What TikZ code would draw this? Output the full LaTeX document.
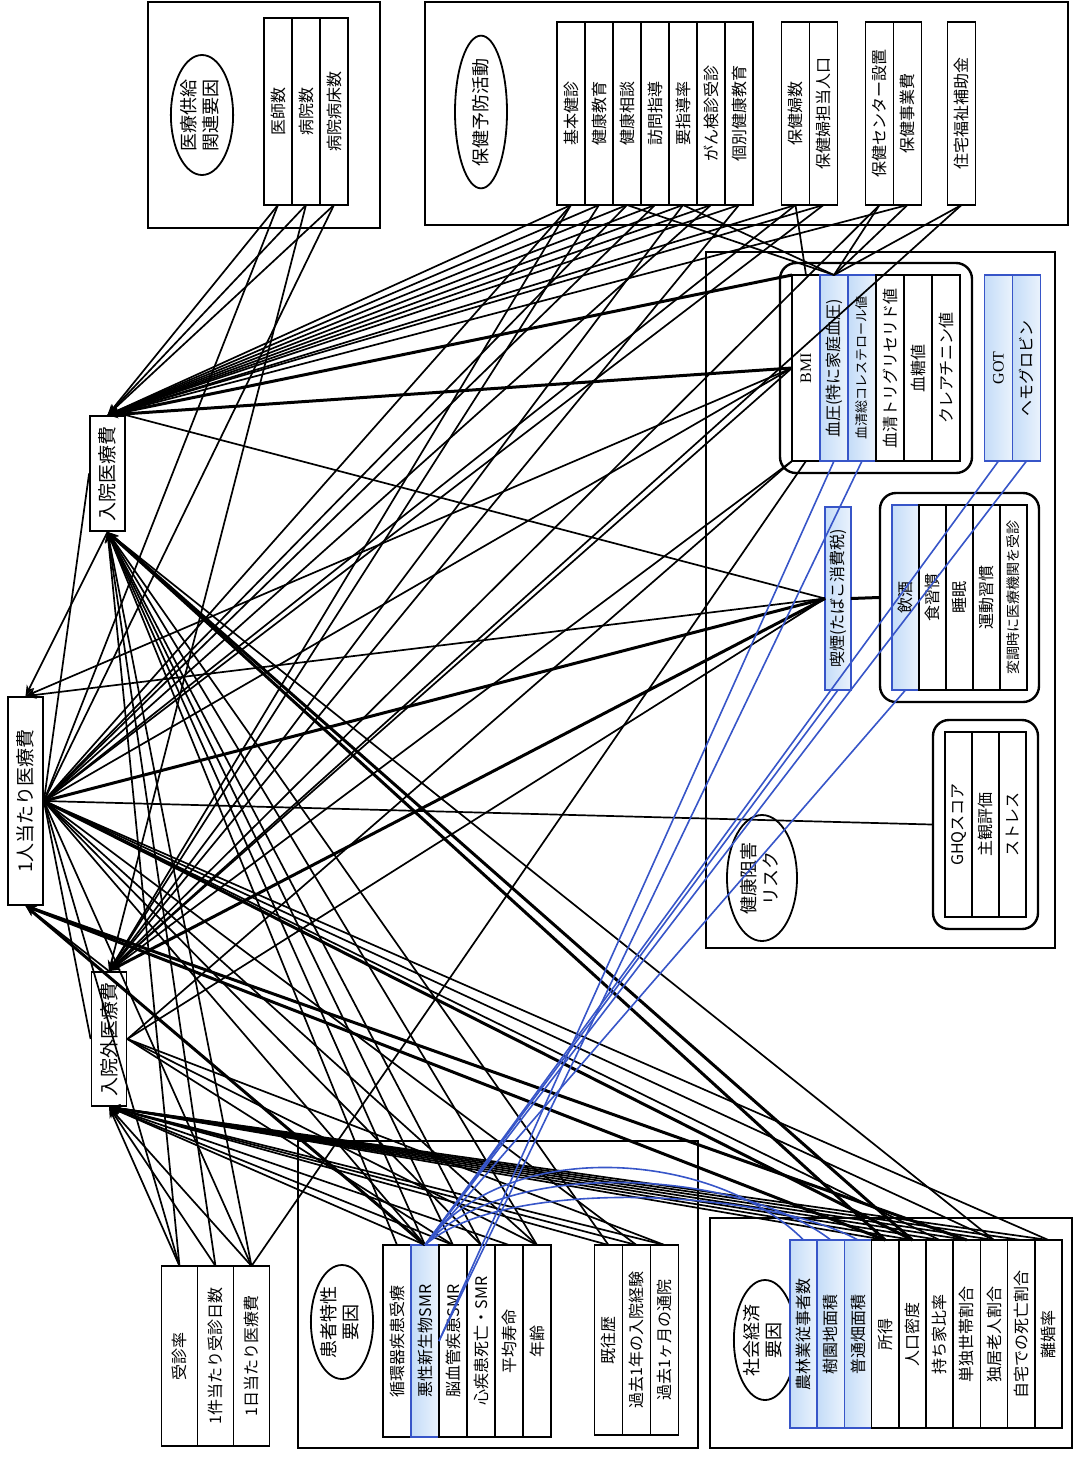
\documentclass[tikz,border=0pt]{standalone}
\usepackage{fontspec}
\setmainfont{Noto Sans CJK JP}
\newfontfamily\latfont{Liberation Serif}
\usepackage{graphicx}
\usetikzlibrary{shapes.geometric,arrows.meta,positioning,fit}

\definecolor{bluefill}{RGB}{196,220,248}
\definecolor{blueline}{RGB}{55,85,200}

\newcommand{\rottext}[1]{\rotatebox{90}{#1}}
\newcommand{\twolines}[2]{\rotatebox{90}{\begin{tabular}{@{}c@{}}#1\\#2\end{tabular}}}

\tikzset{
  outerbox/.style={draw, line width=0.8pt, inner sep=0pt},
  colbox/.style={draw, fill=white, line width=0.8pt, minimum width=14pt, minimum height=#1,
    inner sep=0pt, outer sep=0pt, font=\fontsize{8}{9.5}\selectfont},
  colbox/.default=93pt,
  bluecol/.style={colbox=#1, draw=blueline, left color=bluefill, right color=bluefill!35!white},
  bluecol/.default=93pt,
  grplabel/.style={ellipse, draw, line width=0.9pt, inner sep=0pt, font=\fontsize{9}{11}\selectfont},
  grpbox/.style={draw, line width=1.2pt, rounded corners=8pt, inner sep=6pt},
  ctrbox/.style={draw, fill=white, line width=0.9pt, minimum width=17.5pt, inner sep=0pt,
    font=\fontsize{9.5}{11}\selectfont},
  edge/.style={line width=0.85pt},
  thickedge/.style={line width=1.5pt},
  blueedge/.style={draw=blueline, line width=0.8pt}
}

\begin{document}
\begin{tikzpicture}[x=0.5pt, y=-0.5pt, node distance=0pt,
    >={Stealth[length=5.5pt,width=4pt]}]
\useasboundingbox (0,0) rectangle (1078,1457);

% frames of the factor groups
\node[outerbox, minimum width=116pt, minimum height=113pt] (supBox) at (264,115) {};
\node[outerbox, minimum width=321.5pt, minimum height=111.5pt] (hkBox) at (746.5,113.5) {};
\node[outerbox, minimum width=174.5pt, minimum height=348pt] (krBox) at (880.5,600) {};
\node[outerbox, minimum width=200pt, minimum height=153.5pt] (ptBox) at (498,1294.5) {};
\node[outerbox, minimum width=181pt, minimum height=115pt] (seBox) at (891,1333) {};

% medical costs
\node[ctrbox, minimum height=104pt] (perCap) at (25.5,801) {\rottext{1人当たり医療費}};
\node[ctrbox, minimum height=57.5pt] (inpat) at (107.5,473.5) {\rottext{入院医療費}};
\node[ctrbox, minimum height=67pt] (outpat) at (109,1039) {\rottext{入院外医療費}};

% supply side
\node[grplabel, minimum width=30pt, minimum height=60pt] (supLbl) at (202,115) {\twolines{医療供給}{関連要因}};
\node[colbox=93.5pt] (sup1) at (278,111.5) {\rottext{医師数}};
\node[colbox=93.5pt, right=of sup1] (sup2) {\rottext{病院数}};
\node[colbox=93.5pt, right=of sup2] (sup3) {\rottext{病院病床数}};

% prevention activities
\node[grplabel, minimum width=26pt, minimum height=72pt] (hkLbl) at (481,112) {\rottext{保健予防活動}};
\node[colbox=91.5pt] (hk1) at (571,113.5) {\rottext{基本健診}};
\node[colbox=91.5pt, right=of hk1] (hk2) {\rottext{健康教育}};
\node[colbox=91.5pt, right=of hk2] (hk3) {\rottext{健康相談}};
\node[colbox=91.5pt, right=of hk3] (hk4) {\rottext{訪問指導}};
\node[colbox=91.5pt, right=of hk4] (hk5) {\rottext{要指導率}};
\node[colbox=91.5pt, right=of hk5] (hk6) {\rottext{がん検診受診}};
\node[colbox=91.5pt, right=of hk6] (hk7) {\rottext{個別健康教育}};
\node[colbox=91.5pt] (hk8) at (795.5,113.5) {\rottext{保健婦数}};
\node[colbox=91.5pt, right=of hk8] (hk9) {\rottext{保健婦担当人口}};
\node[colbox=91.5pt] (hk10) at (879.5,113.5) {\rottext{保健センター設置}};
\node[colbox=91.5pt, right=of hk10] (hk11) {\rottext{保健事業費}};
\node[colbox=91.5pt] (hk12) at (961.5,113.5) {\rottext{住宅福祉補助金}};

% health risks
\node[grplabel, minimum width=35pt, minimum height=63pt] (krLbl) at (762,878) {\twolines{健康阻害}{リスク}};
\node[colbox] (bmi) at (806,368) {\rottext{\latfont BMI}};
\node[bluecol, right=of bmi] (bp) {\rottext{血圧(特に家庭血圧)}};
\node[bluecol, right=of bp, font=\fontsize{6.5}{8}\selectfont] (chol) {\rottext{血清総コレステロール値}};
\node[colbox, right=of chol] (tg) {\rottext{血清トリグリセリド値}};
\node[colbox, right=of tg] (glu) {\rottext{血糖値}};
\node[colbox, right=of glu] (crea) {\rottext{クレアチニン値}};
\node[grpbox, fit=(bmi)(crea)] (bmiGrp) {};
\node[bluecol] (got) at (998.5,368) {\rottext{\latfont GOT}};
\node[bluecol, right=of got] (hb) {\rottext{ヘモグロビン}};
\node[bluecol=91.5pt, minimum width=13pt] (smoke) at (838,598.5) {\rottext{喫煙(たばこ消費税)}};
\node[bluecol=92.5pt, minimum width=13.5pt] (drink) at (905.5,597.5) {\rottext{飲酒}};
\node[colbox=92.5pt, minimum width=13.5pt, right=of drink] (diet) {\rottext{食習慣}};
\node[colbox=92.5pt, minimum width=13.5pt, right=of diet] (sleep) {\rottext{睡眠}};
\node[colbox=92.5pt, minimum width=13.5pt, right=of sleep] (exer) {\rottext{運動習慣}};
\node[colbox=92.5pt, minimum width=13.5pt, right=of exer, font=\fontsize{7}{8}\selectfont] (visit) {\rottext{変調時に医療機関を受診}};
\node[grpbox, fit=(drink)(visit)] (lifeGrp) {};
\node[colbox=92.5pt, minimum width=13.5pt] (ghq) at (958.5,824.5) {\rottext{GHQスコア}};
\node[colbox=92.5pt, minimum width=13.5pt, right=of ghq] (subj) {\rottext{主観評価}};
\node[colbox=92.5pt, minimum width=13.5pt, right=of subj] (stress) {\rottext{ストレス}};
\node[grpbox, fit=(ghq)(stress)] (ghqGrp) {};

% consultation
\node[colbox=90pt, minimum width=18pt] (js1) at (179.5,1356) {\rottext{受診率}};
\node[colbox=90pt, minimum width=18pt, right=of js1] (js2) {\rottext{1件当たり受診日数}};
\node[colbox=90pt, minimum width=18pt, right=of js2] (js3) {\rottext{1日当たり医療費}};

% patient characteristics
\node[grplabel, minimum width=30pt, minimum height=57pt] (ptLbl) at (342,1322) {\twolines{患者特性}{要因}};
\node[colbox=96pt] (pt1) at (397,1341) {\rottext{循環器疾患受療}};
\node[bluecol=96pt, right=of pt1] (pt2) {\rottext{悪性新生物SMR}};
\node[colbox=96pt, right=of pt2] (pt3) {\rottext{脳血管疾患SMR}};
\node[colbox=96pt, right=of pt3] (pt4) {\rottext{心疾患死亡・SMR}};
\node[colbox=96pt, right=of pt4] (pt5) {\rottext{平均寿命}};
\node[colbox=96pt, right=of pt5] (pt6) {\rottext{年齢}};
\node[colbox=95pt] (pt7) at (608.5,1340) {\rottext{既往歴}};
\node[colbox=95pt, right=of pt7] (pt8) {\rottext{過去1年の入院経験}};
\node[colbox=95pt, right=of pt8] (pt9) {\rottext{過去1ヶ月の通院}};

% socioeconomic
\node[grplabel, minimum width=31pt, minimum height=60pt] (seLbl) at (765,1340) {\twolines{社会経済}{要因}};
\node[bluecol=94pt, minimum width=13.6pt] (se1) at (803.6,1334) {\rottext{農林業従事者数}};
\node[bluecol=94pt, minimum width=13.6pt, right=of se1] (se2) {\rottext{樹園地面積}};
\node[bluecol=94pt, minimum width=13.6pt, right=of se2] (se3) {\rottext{普通畑面積}};
\node[colbox=94pt, minimum width=13.6pt, right=of se3] (se4) {\rottext{所得}};
\node[colbox=94pt, minimum width=13.6pt, right=of se4] (se5) {\rottext{人口密度}};
\node[colbox=94pt, minimum width=13.6pt, right=of se5] (se6) {\rottext{持ち家比率}};
\node[colbox=94pt, minimum width=13.6pt, right=of se6] (se7) {\rottext{単独世帯割合}};
\node[colbox=94pt, minimum width=13.6pt, right=of se7] (se8) {\rottext{独居老人割合}};
\node[colbox=94pt, minimum width=13.6pt, right=of se8] (se9) {\rottext{自宅での死亡割合}};
\node[colbox=94pt, minimum width=13.6pt, right=of se9] (se10) {\rottext{離婚率}};

% into inpatient cost
\foreach \s in {sup1,sup2,sup3,hk1,hk2,hk3,hk4,hk5,hk6,hk7,hk8,hk9,hk11}
  \draw[edge,->] (\s.south) -- (inpat.north);
\draw[thickedge,->] (bmi.north west) -- (inpat.north);
\draw[thickedge,->] (bmi.west) -- (inpat.north);
\foreach \s in {pt1,pt2,pt3,pt4,pt6,pt7,se8,js1,js2,js3}
  \draw[edge,->] (\s.north) -- (inpat.south);
\draw[thickedge,->] (se4.north) -- (inpat.south);
\draw[thickedge,->] (se5.north) -- (inpat.south);

% into outpatient cost
\foreach \s in {sup2,hk1,hk2,hk5,hk7,hk10,hk12}
  \draw[edge,->] (\s.south) -- (outpat.north);
\draw[edge,->] (bmi.west) -- (outpat.north);
\draw[edge,->] (bmi.south west) -- (outpat.north);
\draw[thickedge,->] (smoke.west) -- (outpat.north);
\foreach \s in {pt2,pt3,pt5,pt7,pt8,pt9,se4,se5,se6,se7,se8,se9,se10,js1,js2,js3}
  \draw[edge,->] (\s.north) -- (outpat.south);
\foreach \s in {pt3,pt6,pt9} \draw[edge] (outpat.east) -- (\s.north);
\draw[edge] (outpat.east) -- (smoke.west);
\draw[edge] (outpat.east) -- (bmi.south west);

% into per-capita cost
\draw[edge,->] (inpat.south) -- (perCap.north);
\draw[edge,->] (bmi.west) -- (perCap.north);
\draw[edge,->] (smoke.west) -- (perCap.north);
\draw[edge,->] (outpat.north) -- (perCap.south);
\foreach \s in {pt2,se4,se7} \draw[thickedge,->] (\s.north) -- (perCap.south);
\foreach \s in {sup1,sup3,hk1,hk3,hk4,hk6,hk8,hk9}
  \draw[edge] (perCap.east) -- (\s.south);
\draw[edge] (perCap.east) -- (bmi.west);
\draw[thickedge] (perCap.east) -- (smoke.west);
\draw[edge] (perCap.east) -- (ghqGrp.west);
\draw[edge] (perCap.east) -- (inpat.west);
\draw[edge] (perCap.east) -- (outpat.west);
\foreach \s in {pt2,pt4,pt6,pt8,se6,se8,se10,js1,js3}
  \draw[edge] (perCap.east) -- (\s.north);
\draw[thickedge] (perCap.east) -- (se5.north);

% smoking and prevention links
\draw[edge] (inpat.north east) -- (smoke.west);
\draw[thickedge] (smoke.east) -- (lifeGrp.west);
\foreach \s in {hk3,hk5,hk10,hk11,hk12} \draw[edge] (\s.south) -- (bp.north);
\draw[edge] (hk8.south) -- (bmi.north);
\draw[edge] (js3.north) -- (bmi.south);

% blue links to cancer SMR
\foreach \s in {got,hb,smoke,drink} \draw[blueedge] (\s.south) -- (pt2.north);
\foreach \s in {bp,chol} \draw[blueedge] (\s.south) -- (pt2.east);
\draw[blueedge] (pt2.north) .. controls +(80,-110) and +(-90,-90) .. (se1.north);
\draw[blueedge] (pt2.north) .. controls +(80,-90) and +(-90,-70) .. (se2.north);
\draw[blueedge] (pt2.north) .. controls +(80,-70) and +(-90,-50) .. (se3.north);
\end{tikzpicture}
\end{document}
